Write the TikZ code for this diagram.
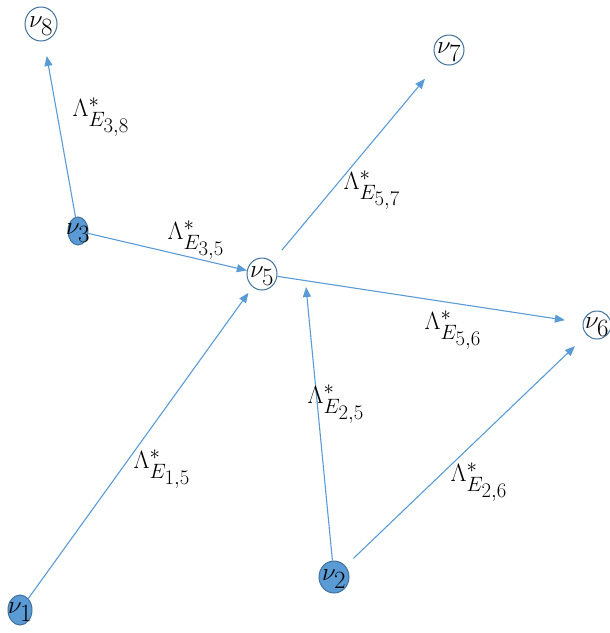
\documentclass[tikz,border=0pt]{standalone}
\usepackage{amsmath,amssymb}
\usetikzlibrary{arrows.meta,shapes.geometric}
\definecolor{edgeblue}{RGB}{91,155,213}
\definecolor{rimblue}{RGB}{65,113,156}

\begin{document}
\begin{tikzpicture}[x=1pt, y=-1pt,
    vtxt/.style={font=\fontsize{35}{38}\selectfont, inner sep=0pt, yshift=-2pt},
    vert/.style={draw=rimblue, ellipse, inner sep=0pt, line width=1pt,
        minimum width=30pt, minimum height=32pt, label={[vtxt]center:$\nu_{#1}$}},
    hub/.style={vert=#1, fill=edgeblue},
    arr/.style={-{Triangle[length=10pt,width=8pt]}, draw=edgeblue, line width=1.1pt},
    lbl/.style={font=\fontsize{28}{32}\selectfont, inner sep=0pt}
]
\useasboundingbox (0,0) rectangle (610,633);

% vertices
\node[vert=8, minimum width=32pt, minimum height=34pt] (v8) at (41,24) {};
\node[vert=7, minimum height=30pt] (v7) at (449,50) {};
\node[hub=3, minimum width=20pt, minimum height=28pt] (v3) at (78,231) {};
\node[vert=5] (v5) at (262,274) {};
\node[vert=6, minimum width=28pt, minimum height=28pt] (v6) at (597,325) {};
\node[hub=1, minimum width=24pt, minimum height=30pt] (v1) at (20,610) {};
\node[hub=2] (v2) at (334,577) {};
\coordinate (t25) at (306,287);

% edges
\draw[arr, shorten >=15pt] (v3) -- (v8);
\draw[arr] (v3) -- (v5);
\draw[arr, shorten <=15pt, shorten >=22pt] (v5) -- (v7);
\draw[arr, shorten >=18pt] (v5) -- (v6);
\draw[arr, shorten >=7pt] (v1) -- (v5);
\draw[arr] (v2) -- (t25);
\draw[arr, shorten <=11pt, shorten >=16pt] (v2) -- (v6);

% edge labels
\node[lbl] (l38) at (101,117) {$\Lambda^*_{E_{\scriptstyle 3,8}}$};
\node[lbl] (l35) at (196,240) {$\Lambda^*_{E_{\scriptstyle 3,5}}$};
\node[lbl] (l57) at (372,190) {$\Lambda^*_{E_{\scriptstyle 5,7}}$};
\node[lbl] (l56) at (453,330) {$\Lambda^*_{E_{\scriptstyle 5,6}}$};
\node[lbl] (l15) at (162,469) {$\Lambda^*_{E_{\scriptstyle 1,5}}$};
\node[lbl] (l25) at (336,404) {$\Lambda^*_{E_{\scriptstyle 2,5}}$};
\node[lbl] (l26) at (479,482) {$\Lambda^*_{E_{\scriptstyle 2,6}}$};
\end{tikzpicture}
\end{document}
